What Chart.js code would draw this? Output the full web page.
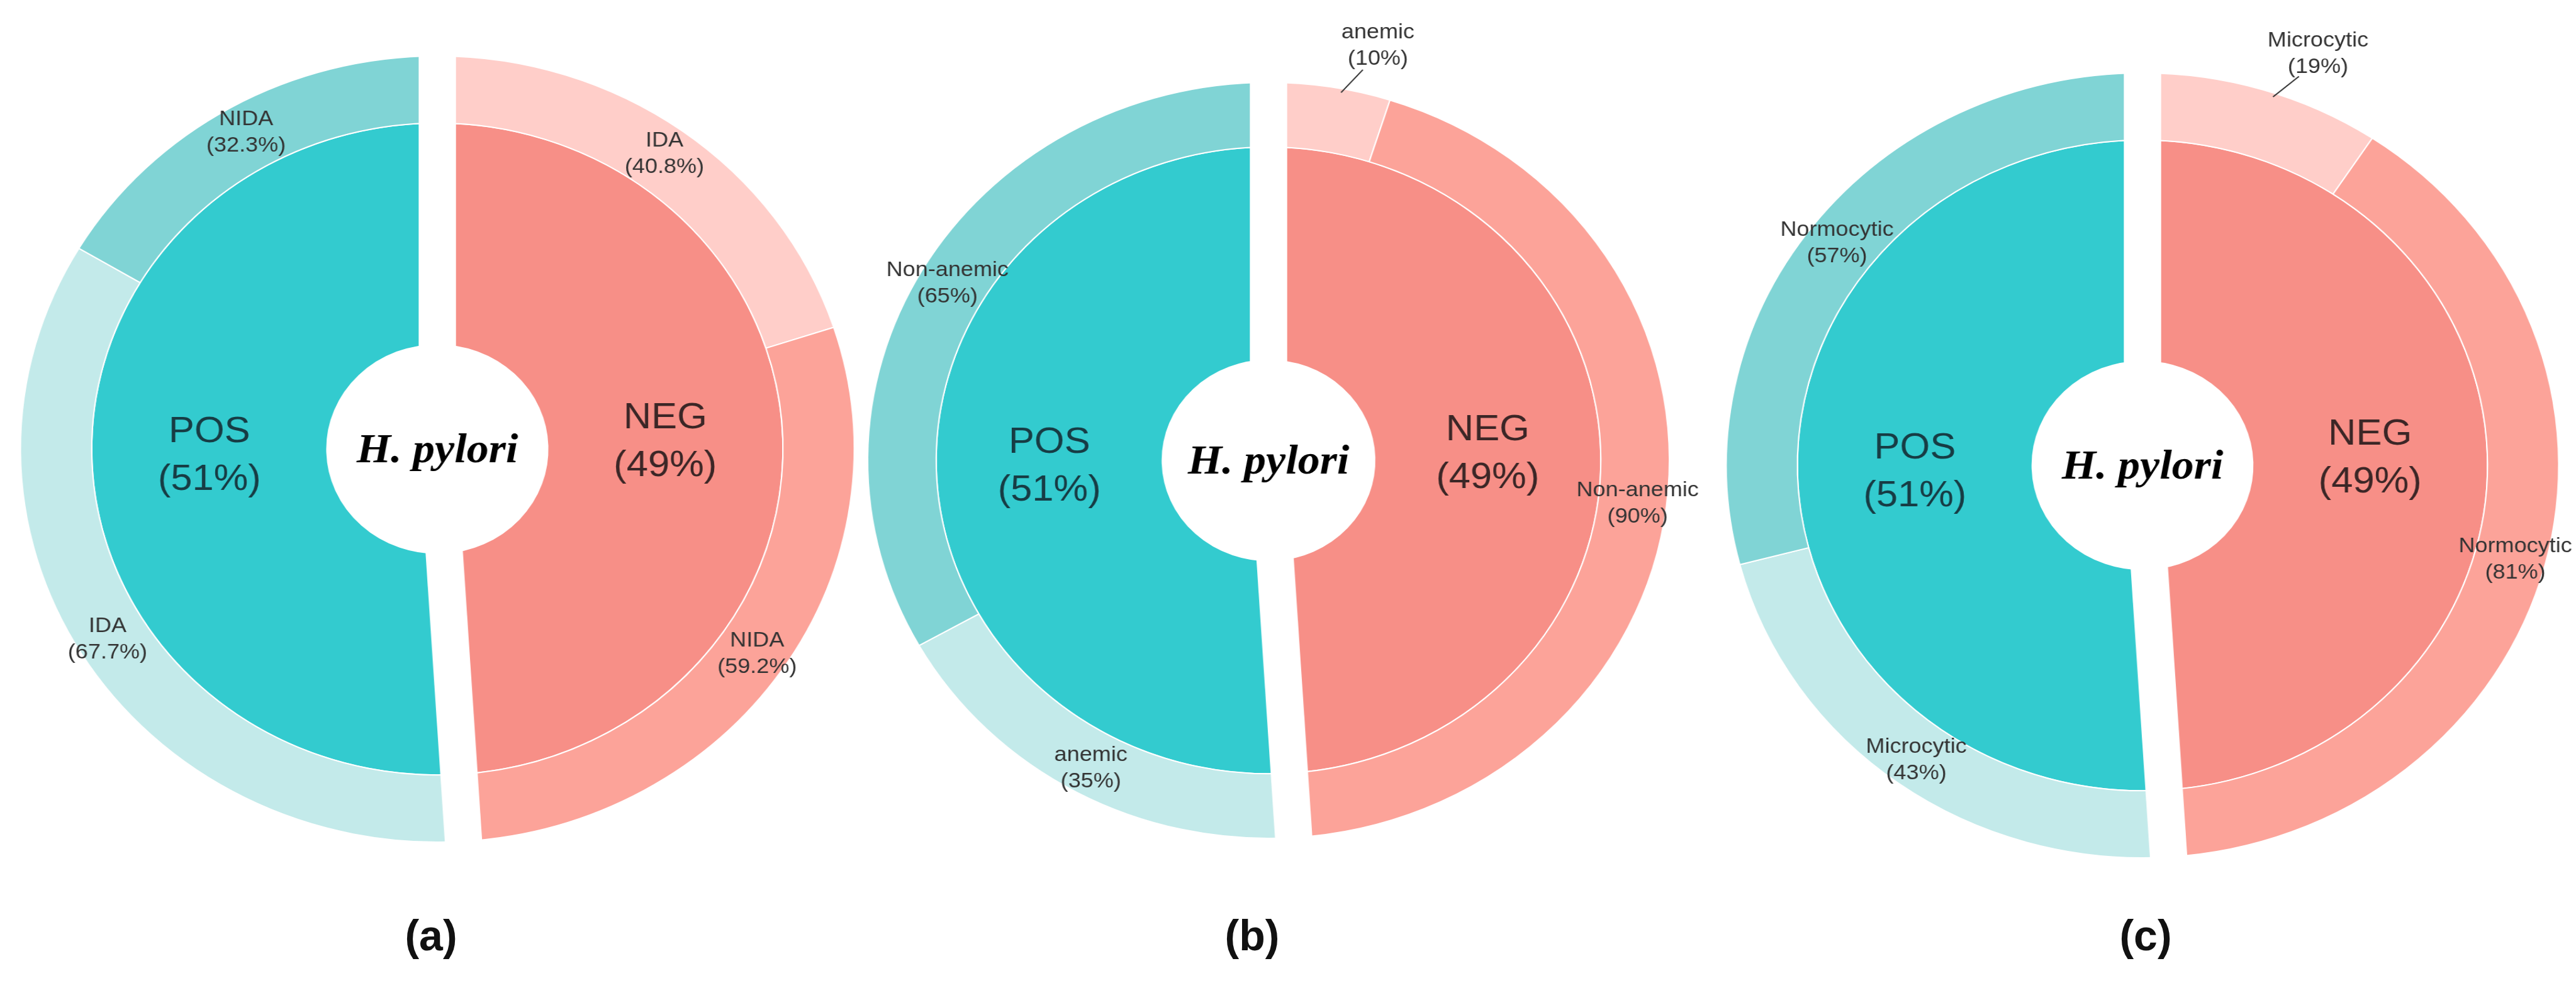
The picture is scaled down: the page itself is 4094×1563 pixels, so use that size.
<!DOCTYPE html>
<html>
<head>
<meta charset="utf-8">
<script src="https://cdn.jsdelivr.net/npm/chart.js@4"></script>
<style>
  body { margin: 0; width: 4094px; height: 1563px; background: #fff; position: relative; overflow: hidden; }
  canvas { position: absolute; transform: scaleX(1.06); transform-origin: center; }
  .tag { position: absolute; font: bold 68px "Liberation Sans", Arial, sans-serif; color: #111; transform: translateX(-50%); }
</style>
</head>
<body>
<canvas id="c0"></canvas>
<canvas id="c1"></canvas>
<canvas id="c2"></canvas>
<script>
// data
var panelTags = ["(a)", "(b)", "(c)"];
var parentLabels = ["NEG", "POS"];
var parentValues = [49, 51];
var negSubLabels = [["IDA", "NIDA"], ["anemic", "Non-anemic"], ["Microcytic", "Normocytic"]];
var negSubShares = [[40.8, 59.2], [10, 90], [19, 81]];
var posSubLabels = [["IDA", "NIDA"], ["anemic", "Non-anemic"], ["Microcytic", "Normocytic"]];
var posSubShares = [[67.7, 32.3], [35, 65], [43, 57]];

var innerColors = ["#F78F87", "#33CBCF"];
var outerColors = ["#FFCEC9", "#FCA399", "#C3EAEA", "#80D4D5"];
// layout: center x, center y, radius
var layoutPanels = [[695, 714, 626], [2016, 732, 602], [3405, 740, 625]];
var tagX = [685, 1990, 3410];

function fmtShare(v) {
  return "(" + v + "%)";
}

var decorPlugin = {
  id: "decor",
  afterDatasetsDraw: function (chart) {
    var ctx = chart.ctx;
    var outer = chart.getDatasetMeta(0).data;
    var inner = chart.getDatasetMeta(1).data;
    var cx = inner[0].x, cy = inner[0].y;
    var R = outer[0].outerRadius;
    // white gaps between POS and NEG
    ctx.save();
    ctx.strokeStyle = "#fff";
    ctx.lineWidth = 56;
    inner.forEach(function (arc) {
      ctx.beginPath();
      ctx.moveTo(cx, cy);
      ctx.lineTo(cx + Math.cos(arc.startAngle) * (R + 5), cy + Math.sin(arc.startAngle) * (R + 5));
      ctx.stroke();
    });
    ctx.restore();

    ctx.save();
    ctx.textAlign = "center";
    ctx.textBaseline = "middle";
    // inner labels
    inner.forEach(function (arc, i) {
      var mid = (arc.startAngle + arc.endAngle) / 2;
      var r = (arc.innerRadius + arc.outerRadius) / 2;
      var x = cx + Math.cos(mid) * r, y = cy + Math.sin(mid) * r;
      ctx.fillStyle = i === 0 ? "#3b2626" : "#173c44";
      ctx.font = "58px 'Liberation Sans', Arial, sans-serif";
      ctx.fillText(parentLabels[i], x, y - 38);
      ctx.fillText("(" + parentValues[i] + "%)", x, y + 38);
    });
    // outer labels
    var p = chart.options.plugins.decor.panel;
    var labs = negSubLabels[p].concat(posSubLabels[p]);
    var shares = negSubShares[p].concat(posSubShares[p]);
    ctx.font = "34px 'Liberation Sans', Arial, sans-serif";
    ctx.fillStyle = "#333";
    outer.forEach(function (arc, i) {
      var mid = (arc.startAngle + arc.endAngle) / 2;
      var val = chart.data.datasets[0].data[i];
      var r, a = mid;
      if (val < 10) {
        a = mid + 0.09;
        r = R * 1.13;
        ctx.strokeStyle = "#333";
        ctx.lineWidth = 2;
        ctx.beginPath();
        ctx.moveTo(cx + Math.cos(mid + 0.03) * R * 0.99, cy + Math.sin(mid + 0.03) * R * 0.99);
        ctx.lineTo(cx + Math.cos(a - 0.02) * R * 1.06, cy + Math.sin(a - 0.02) * R * 1.06);
        ctx.stroke();
      } else {
        r = (arc.innerRadius + arc.outerRadius) / 2 + 8;
      }
      var x = cx + Math.cos(a) * r, y = cy + Math.sin(a) * r;
      ctx.fillText(labs[i], x, y - 21);
      ctx.fillText(fmtShare(shares[i]), x, y + 21);
    });
    // center title
    ctx.fillStyle = "#000";
    ctx.font = "italic bold 66px 'Liberation Serif', 'Times New Roman', serif";
    ctx.fillText("H. pylori", cx, cy + 4);
    ctx.restore();
  }
};

for (let p = 0; p < 3; p++) {
  var L = layoutPanels[p];
  var pad = 100;
  var size = 2 * L[2] + 2 * pad;
  var canvas = document.getElementById("c" + p);
  canvas.width = size;
  canvas.height = size;
  canvas.style.left = (L[0] - size / 2) + "px";
  canvas.style.top = (L[1] - size / 2) + "px";

  var outerValues = [
    parentValues[0] * negSubShares[p][0] / 100,
    parentValues[0] * negSubShares[p][1] / 100,
    parentValues[1] * posSubShares[p][0] / 100,
    parentValues[1] * posSubShares[p][1] / 100,
  ];

  new Chart(canvas, {
    type: "doughnut",
    data: {
      labels: negSubLabels[p].concat(posSubLabels[p]),
      datasets: [
        { data: outerValues, backgroundColor: outerColors, borderColor: "#fff", borderWidth: 2, weight: 1 },
        { data: parentValues, backgroundColor: innerColors, borderColor: "#fff", borderWidth: 2, weight: 3.3 },
      ],
    },
    options: {
      responsive: false,
      devicePixelRatio: 1,
      animation: false,
      cutout: "26.5%",
      layout: { padding: pad },
      plugins: {
        legend: { display: false },
        tooltip: { enabled: false },
        decor: { panel: p },
      },
    },
    plugins: [decorPlugin],
  });

  var tag = document.createElement("div");
  tag.className = "tag";
  tag.textContent = panelTags[p];
  tag.style.left = tagX[p] + "px";
  tag.style.top = "1448px";
  document.body.appendChild(tag);
}
</script>
</body>
</html>
